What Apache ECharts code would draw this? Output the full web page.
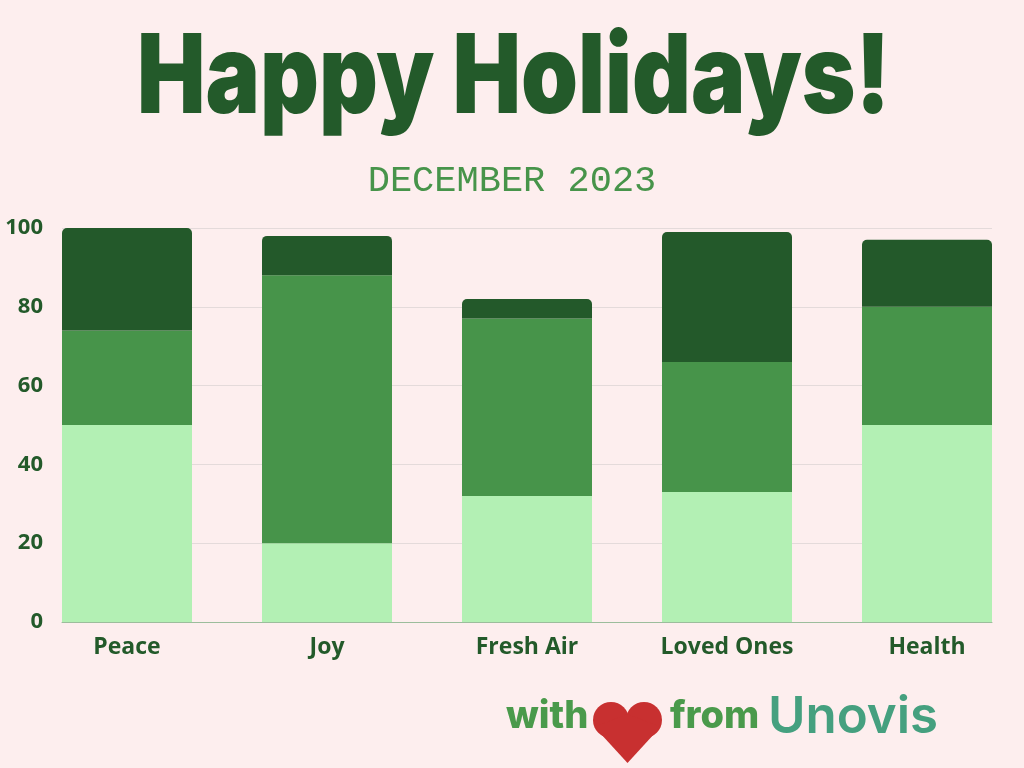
<!DOCTYPE html>
<html>
<head>
<meta charset="utf-8">
<script src="https://cdn.jsdelivr.net/npm/echarts@6/dist/echarts.min.js"></script>
<style>
  html, body { margin: 0; padding: 0; background: #fdeeee; }
  #chart { width: 1024px; height: 768px; }
</style>
</head>
<body>
<div id="chart"></div>
<script>
// categories and stacked values
var categories = ['Peace', 'Joy', 'Fresh Air', 'Loved Ones', 'Health'];
var lightVals = [50, 20, 32, 33, 50];
var midVals = [24, 68, 45, 33, 30];
var darkVals = [26, 10, 5, 33, 17];
var yTicks = [0, 20, 40, 60, 80, 100];

var textGreen = '#235a2a';

var chart = echarts.init(document.getElementById('chart'));

// grid 0 runs through the bar centres, grid 1 holds the visible frame
var option = {
    backgroundColor: '#fdeeee',
    grid: [
        { left: 127, right: 97, top: 228, bottom: 146 },
        { left: 62, right: 32, top: 228, bottom: 146 }
    ],
    xAxis: [{
        type: 'category',
        gridIndex: 0,
        data: categories,
        boundaryGap: false,
        axisLine: { show: false },
        axisTick: { show: false },
        axisLabel: {
            color: textGreen,
            fontFamily: 'Open Sans',
            fontWeight: 'bold',
            fontSize: 23,
            margin: 14
        }
    }, {
        type: 'value',
        gridIndex: 1,
        min: 0,
        max: 1,
        axisLine: { show: true, lineStyle: { color: '#9cbd9c', width: 1 } },
        axisTick: { show: false },
        axisLabel: { show: false },
        splitLine: { show: false }
    }],
    yAxis: [{
        type: 'value',
        gridIndex: 0,
        min: yTicks[0],
        max: yTicks[yTicks.length - 1],
        interval: 20,
        show: false
    }, {
        type: 'value',
        gridIndex: 1,
        min: yTicks[0],
        max: yTicks[yTicks.length - 1],
        interval: 20,
        axisLine: { show: false },
        axisTick: { show: false },
        splitLine: { lineStyle: { color: '#e4dada', width: 1 } },
        axisLabel: {
            color: textGreen,
            fontFamily: 'Open Sans',
            fontWeight: 'bold',
            fontSize: 22,
            margin: 19
        }
    }],
    series: [{
        type: 'bar',
        stack: 'all',
        barWidth: 130,
        clip: false,
        data: lightVals,
        itemStyle: { color: '#b3f0b4' }
    }, {
        type: 'bar',
        stack: 'all',
        barWidth: 130,
        clip: false,
        data: midVals,
        itemStyle: { color: '#47944a' }
    }, {
        type: 'bar',
        stack: 'all',
        barWidth: 130,
        clip: false,
        data: darkVals,
        itemStyle: { color: '#23592a', borderRadius: [5, 5, 0, 0] }
    }],
    graphic: [{
        type: 'text',
        x: 137,
        y: 25,
        scaleX: 0.83,
        style: {
            text: 'Happy Holidays!',
            fill: textGreen,
            font: '900 110px Inter'
        }
    }, {
        type: 'text',
        x: 512,
        y: 163,
        style: {
            text: 'DECEMBER 2023',
            fill: '#47944a',
            align: 'center',
            font: 'normal 37px "Liberation Mono"'
        }
    }, {
        type: 'text',
        x: 506,
        y: 698,
        style: {
            text: 'with',
            fill: '#4a9a4b',
            font: '800 38px Inter'
        }
    }, {
        // heart
        type: 'group',
        x: 593,
        y: 702,
        children: [{
            type: 'circle',
            shape: { cx: 18, cy: 18, r: 18 },
            style: { fill: '#c83030' }
        }, {
            type: 'circle',
            shape: { cx: 51, cy: 18, r: 18 },
            style: { fill: '#c83030' }
        }, {
            type: 'polygon',
            shape: { points: [[1.5, 25], [34.5, 61], [67.5, 25], [34.5, 12]] },
            style: { fill: '#c83030' }
        }]
    }, {
        type: 'text',
        x: 670,
        y: 698,
        style: {
            text: 'from',
            fill: '#4a9a4b',
            font: '800 38px Inter'
        }
    }, {
        type: 'text',
        x: 768,
        y: 692,
        style: {
            text: 'Unovis',
            fill: '#45a07f',
            font: '600 51px Inter'
        }
    }]
};

chart.setOption(option);
</script>
</body>
</html>
